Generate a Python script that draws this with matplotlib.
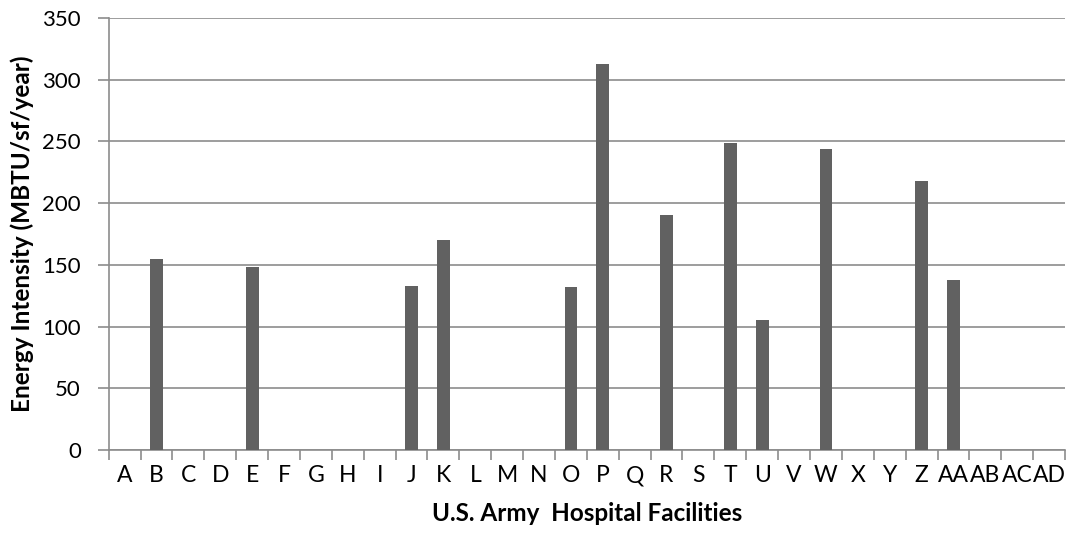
import matplotlib.pyplot as plt
import numpy as np

facilities = ["A", "B", "C", "D", "E", "F", "G", "H", "I", "J", "K", "L", "M", "N", "O",
              "P", "Q", "R", "S", "T", "U", "V", "W", "X", "Y", "Z", "AA", "AB", "AC", "AD"]
intensity = [0, 155, 0, 0, 148, 0, 0, 0, 0, 133, 170, 0, 0, 0, 132,
             313, 0, 190, 0, 249, 105, 0, 244, 0, 0, 218, 138, 0, 0, 0]

plt.rcParams["font.family"] = ["Lato", "DejaVu Sans"]

fig = plt.figure(figsize=(10.68, 5.37), dpi=100)
ax = fig.add_axes([0.1018, 0.1620, 0.8954, 0.8045])

x = np.arange(len(facilities))
ax.bar(x, intensity, width=0.4, color="#616161", zorder=3)

ax.set_xlim(-0.5, len(facilities) - 0.5)
ax.set_ylim(0, 350)
ax.set_yticks(np.arange(0, 351, 50))
ax.yaxis.grid(True, color="#8c8c8c", linewidth=1.2, zorder=0)

# category labels in the middle, tick marks on the boundaries
ax.set_xticks(x)
ax.set_xticklabels(facilities)
ax.set_xticks(np.arange(-0.5, len(facilities)), minor=True)
ax.tick_params(axis="x", which="major", length=0, pad=11, labelsize=16.5)
ax.tick_params(axis="x", which="minor", length=7, color="#8c8c8c", width=1.2)
ax.tick_params(axis="y", length=8, color="#8c8c8c", width=1.2, labelsize=16, pad=12)

for side in ["top", "right"]:
    ax.spines[side].set_visible(False)
for side in ["left", "bottom"]:
    ax.spines[side].set_color("#8c8c8c")
    ax.spines[side].set_linewidth(1.2)

ax.set_xlabel("U.S. Army  Hospital Facilities", fontsize=17.5, fontweight="bold", labelpad=11)
ax.set_ylabel("Energy Intensity (MBTU/sf/year)", fontsize=17.5, fontweight="bold", labelpad=6)

fig.savefig("out.png", dpi=100)
